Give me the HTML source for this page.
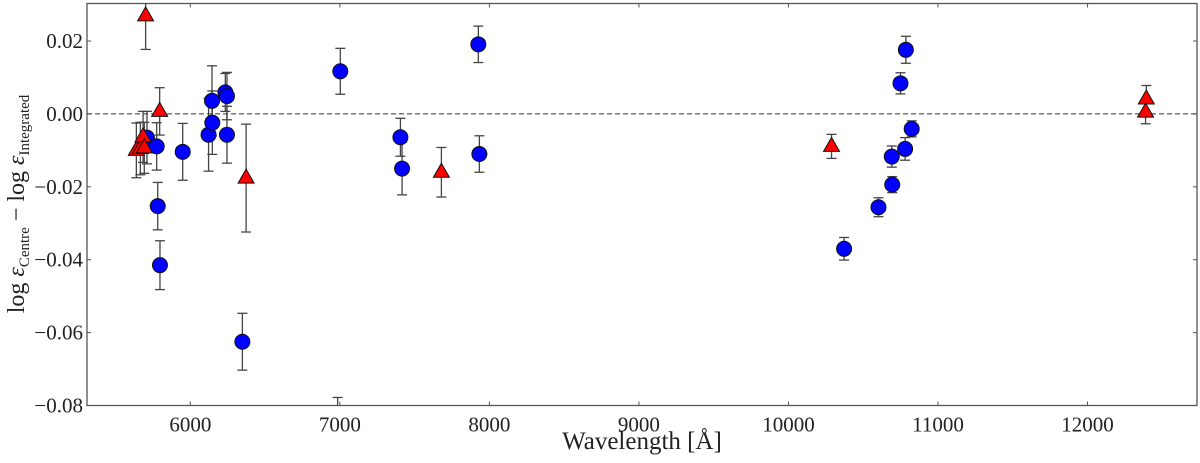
<!DOCTYPE html>
<html><head><meta charset="utf-8"><style>
html,body{margin:0;padding:0;background:#fff;width:1200px;height:463px;overflow:hidden}
svg text{font-family:"Liberation Serif",serif;fill:#222}
</style></head><body>
<svg id="chart" width="1200" height="463" viewBox="0 0 1200 463" xmlns="http://www.w3.org/2000/svg">
<defs><clipPath id="clip"><rect x="87" y="3.5" width="1110" height="402"/></clipPath></defs>
<g id="axes"></g>
<g id="marks" clip-path="url(#clip)"></g>
<text x="642" y="449" font-size="25" text-anchor="middle">Wavelength [Å]</text>
<text transform="translate(24,204) rotate(-90)" font-size="24" text-anchor="middle"><tspan font-style="normal">log </tspan><tspan font-style="italic">ε</tspan><tspan font-size="15" dy="5">Centre</tspan><tspan dy="-5"> − log </tspan><tspan font-style="italic">ε</tspan><tspan font-size="15" dy="5">Integrated</tspan></text>
</svg>
<script>
const circleX = [5710,5775,5782,5797,5949,6122,6145,6147,6234,6245,6245,6348,7003,6985,7405,7416,7926,7933,10372,10602,10691,10694,10749,10785,10780,10824];
const circleY = [-0.0065,-0.0089,-0.0253,-0.0415,-0.0104,-0.0057,0.0036,-0.0024,0.0059,0.0049,-0.0057,-0.0625,0.0117,-0.086,-0.0064,-0.015,0.0191,-0.011,-0.037,-0.0256,-0.0117,-0.0194,0.0084,0.0176,-0.0096,-0.0041];
const circleErr = [0.0072,0.0065,0.0065,0.0067,0.0078,0.0100,0.0096,0.0087,0.0052,0.0065,0.0078,0.0078,0.0063,0.0082,0.0052,0.0072,0.005,0.005,0.0031,0.0026,0.0029,0.0022,0.0029,0.0037,0.0031,0.0022];
const triX = [5701,5795,6373,5639,5666,5684,5692,7679,10288,12393,12388];
const triY = [0.0269,0.0007,-0.0176,-0.0100,-0.0095,-0.0063,-0.0093,-0.016,-0.0089,0.0041,0.0005];
const triErr = [0.0092,0.0065,0.0148,0.0075,0.0072,0.0070,0.0070,0.0068,0.0033,0.0037,0.0032];
const xTicks = [6000,7000,8000,9000,10000,11000,12000];
const yTicks = [0.02,0.00,-0.02,-0.04,-0.06,-0.08];
const yTickLabels = ["0.02","0.00","−0.02","−0.04","−0.06","−0.08"];

const X0=87,X1=1197,Y0=3.5,Y1=405.5;
const xMin=5309,xMax=12732,yMin=-0.08,yMax=0.0303;
const sx=v=>X0+(v-xMin)/(xMax-xMin)*(X1-X0);
const sy=v=>Y1-(v-yMin)/(yMax-yMin)*(Y1-Y0);
const NS="http://www.w3.org/2000/svg";
function mk(tag,attrs,parent){const e=document.createElementNS(NS,tag);for(const k in attrs)e.setAttribute(k,attrs[k]);parent.appendChild(e);return e;}
const axes=document.getElementById('axes'),marks=document.getElementById('marks');

const frame=mk('rect',{x:X0,y:Y0,width:X1-X0,height:Y1-Y0,fill:'none',stroke:'#555','stroke-width':1.3},axes);


xTicks.forEach(t=>{
  const x=sx(t);
  mk('line',{x1:x,x2:x,y1:Y1,y2:Y1-4,stroke:'#555'},axes);
  mk('line',{x1:x,x2:x,y1:Y0,y2:Y0+4,stroke:'#555'},axes);
  const tx=mk('text',{x:x,y:Y1+26,'font-size':21,'text-anchor':'middle'},axes);
  tx.textContent=t;
  
  
});
yTicks.forEach((t,i)=>{
  const y=sy(t);
  mk('line',{x1:X0,x2:X0+4,y1:y,y2:y,stroke:'#555'},axes);
  mk('line',{x1:X1,x2:X1-4,y1:y,y2:y,stroke:'#555'},axes);
  const tx=mk('text',{x:X0-4,y:y+7,'font-size':21,'text-anchor':'end'},axes);
  tx.textContent=yTickLabels[i];
  
  
});
const zl=mk('line',{x1:X0,x2:X1,y1:sy(0),y2:sy(0),stroke:'#333','stroke-dasharray':'5,3','stroke-width':1},marks);



function errbar(x,y,e){
  const g=mk('g',{stroke:'#444','stroke-width':1.3},marks);
  
  
  const px=sx(x),a=sy(y+e),b=sy(y-e);
  mk('line',{x1:px,x2:px,y1:a,y2:b},g);
  mk('line',{x1:px-5,x2:px+5,y1:a,y2:a},g);
  mk('line',{x1:px-5,x2:px+5,y1:b,y2:b},g);
}
circleX.forEach((x,i)=>errbar(x,circleY[i],circleErr[i]));
triX.forEach((x,i)=>errbar(x,triY[i],triErr[i]));
circleX.forEach((x,i)=>{
  const c=mk('circle',{cx:sx(x),cy:sy(circleY[i]),r:7.5,fill:'#0000ff',stroke:'#111','stroke-width':1},marks);
  
  
});
triX.forEach((x,i)=>{
  const px=sx(x),py=sy(triY[i]);
  const p=mk('polygon',{points:`${px},${py-9} ${px-8},${py+5} ${px+8},${py+5}`,fill:'#ff0000',stroke:'#111','stroke-width':1},marks);
  
  
});
</script>
</body></html>
